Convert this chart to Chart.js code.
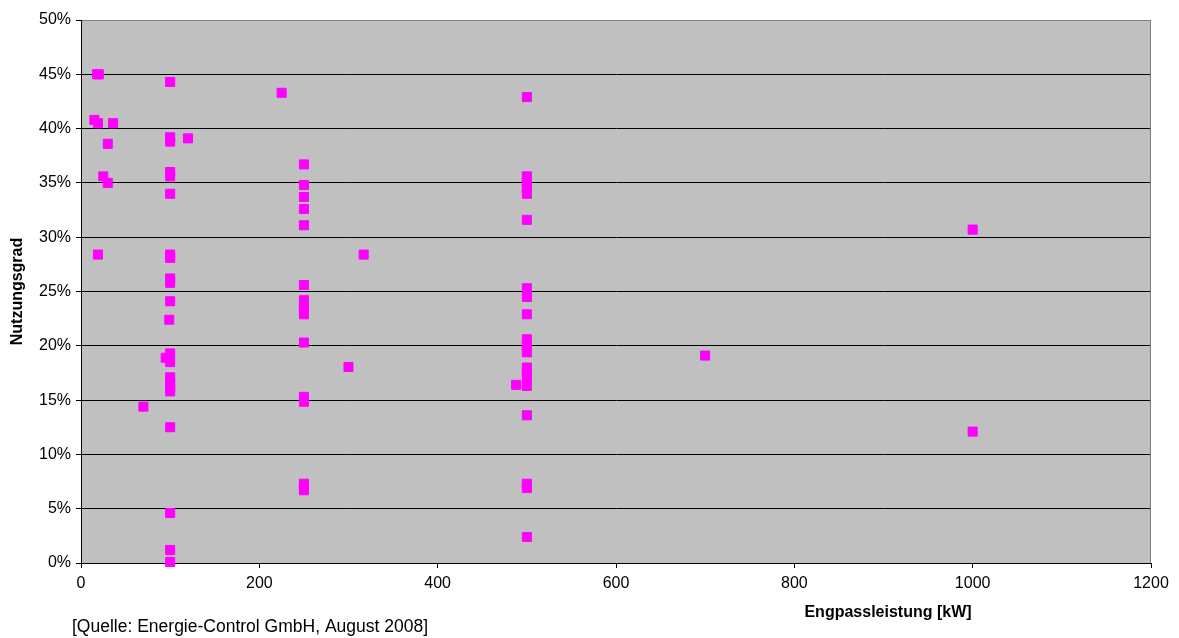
<!DOCTYPE html>
<html>
<head>
<meta charset="utf-8">
<title>Nutzungsgrad vs. Engpassleistung</title>
<script src="https://cdn.jsdelivr.net/npm/chart.js@4/dist/chart.umd.min.js"></script>
<style>
  html, body { margin: 0; padding: 0; background: #ffffff; }
  #wrap { width: 1179px; height: 638px; }
</style>
</head>
<body>
<div id="wrap"><canvas id="scatterChart" width="1179" height="638"></canvas></div>
<script>
// Engpassleistung [kW] and Nutzungsgrad [%] per plant
const capacityKW = [
  18, 20, 15, 19, 36, 30, 25, 30, 19, 70,
  100, 100, 100, 100, 100, 100, 100, 100, 100, 100,
  100, 99, 100, 95, 100, 100, 100, 100, 100, 100,
  100, 100, 100, 120, 225,
  250, 250, 250, 250, 250, 250, 250, 250, 250, 250,
  250, 250, 250, 250, 250, 250,
  300, 317, 488,
  500, 500, 500, 500, 500, 500, 500, 500, 500, 500,
  500, 500, 500, 500, 500, 500, 500, 500, 500, 500,
  700, 1000, 1000
];
const efficiencyPct = [
  45.0, 45.0, 40.8, 40.5, 40.5, 38.6, 35.6, 35.0, 28.4, 14.4,
  44.3, 39.2, 38.8, 36.0, 35.6, 34.0, 28.4, 28.1, 26.2, 25.8,
  24.1, 22.4, 19.3, 18.9, 18.5, 17.1, 16.6, 16.2, 15.8, 12.5,
  4.6, 1.2, 0.1, 39.1, 43.3,
  36.7, 34.8, 33.7, 32.6, 31.1, 25.6, 24.2, 23.7, 23.3, 22.9,
  20.3, 15.3, 14.85, 7.3, 7.0, 6.7,
  18.05, 28.4, 16.4,
  42.9, 35.6, 35.1, 34.5, 34.0, 31.6, 25.3, 24.5, 22.9, 20.6,
  20.0, 19.4, 18.0, 17.5, 17.0, 16.3, 13.6, 7.3, 6.9, 2.4,
  19.1, 30.7, 12.1
];

const xTitle = 'Engpassleistung [kW]';
const yTitle = 'Nutzungsgrad';
const sourceNote = '[Quelle: Energie-Control GmbH, August 2008]';
const FONT = '"Liberation Sans", Arial, sans-serif';

const points = capacityKW.map((kw, i) => ({ x: kw, y: efficiencyPct[i] }));

// -------------------------------------------------------------
// Grey plot area, right edge and the free-standing texts
// -------------------------------------------------------------
const excelLook = {
  id: 'excelLook',
  beforeDraw(chart) {
    const { ctx, chartArea: a } = chart;
    ctx.save();
    ctx.fillStyle = '#c0c0c0';
    ctx.fillRect(a.left, a.top, a.right - a.left, a.bottom - a.top);
    ctx.restore();
  },
  beforeDatasetsDraw(chart) {
    const { ctx, chartArea: a } = chart;
    ctx.save();
    ctx.strokeStyle = '#808080';
    ctx.lineWidth = 1;
    ctx.beginPath();
    ctx.moveTo(Math.round(a.right) - 0.5, a.top);
    ctx.lineTo(Math.round(a.right) - 0.5, a.bottom);
    ctx.stroke();
    ctx.restore();
  },
  afterDraw(chart) {
    const { ctx, chartArea: a } = chart;
    ctx.save();
    ctx.fillStyle = '#000000';
    ctx.font = 'bold 16px ' + FONT;
    ctx.textAlign = 'center';
    ctx.textBaseline = 'middle';
    ctx.fillText(xTitle, 888, 613);

    ctx.translate(18, (a.top + a.bottom) / 2);
    ctx.rotate(-Math.PI / 2);
    ctx.fillText(yTitle, 0, 0);
    ctx.restore();

    ctx.save();
    ctx.fillStyle = '#000000';
    ctx.font = '17.5px ' + FONT;
    ctx.textAlign = 'left';
    ctx.textBaseline = 'middle';
    ctx.fillText(sourceNote, 72, 627);
    ctx.restore();
  }
};

const ctx = document.getElementById('scatterChart').getContext('2d');
new Chart(ctx, {
  type: 'scatter',
  data: {
    datasets: [{
      data: points,
      backgroundColor: '#ff00ff',
      borderColor: '#ff00ff',
      borderWidth: 1,
      pointStyle: 'rect',
      pointRadius: 6.4,
      pointHoverRadius: 6.4,
      clip: false
    }]
  },
  options: {
    responsive: false,
    animation: false,
    devicePixelRatio: 1,
    layout: { padding: { top: 20, right: 28, left: 0, bottom: 0 } },
    plugins: {
      legend: { display: false },
      tooltip: { enabled: false },
      title: { display: false }
    },
    scales: {
      x: {
        type: 'linear',
        min: 0,
        max: 1200,
        afterFit: (scale) => { scale.height = 75; },
        ticks: {
          stepSize: 200,
          color: '#000000',
          font: { family: FONT, size: 16 },
          padding: 6,
          maxRotation: 0,
          callback: (v) => String(v)
        },
        grid: {
          drawOnChartArea: false,
          drawTicks: true,
          tickLength: 5,
          color: '#000000'
        },
        border: { display: true, color: '#000000', width: 1 }
      },
      y: {
        type: 'linear',
        min: 0,
        max: 50,
        afterFit: (scale) => { scale.width = 81; },
        ticks: {
          stepSize: 5,
          color: '#000000',
          font: { family: FONT, size: 16 },
          padding: 5,
          callback: (v) => Math.round(v) + '%'
        },
        grid: {
          color: (c) => (c.tick && c.tick.value === 50 ? '#808080' : '#000000'),
          tickColor: '#000000',
          tickLength: 5,
          lineWidth: 1
        },
        border: { display: true, color: '#000000', width: 1 }
      }
    }
  },
  plugins: [excelLook]
});
</script>
</body>
</html>
